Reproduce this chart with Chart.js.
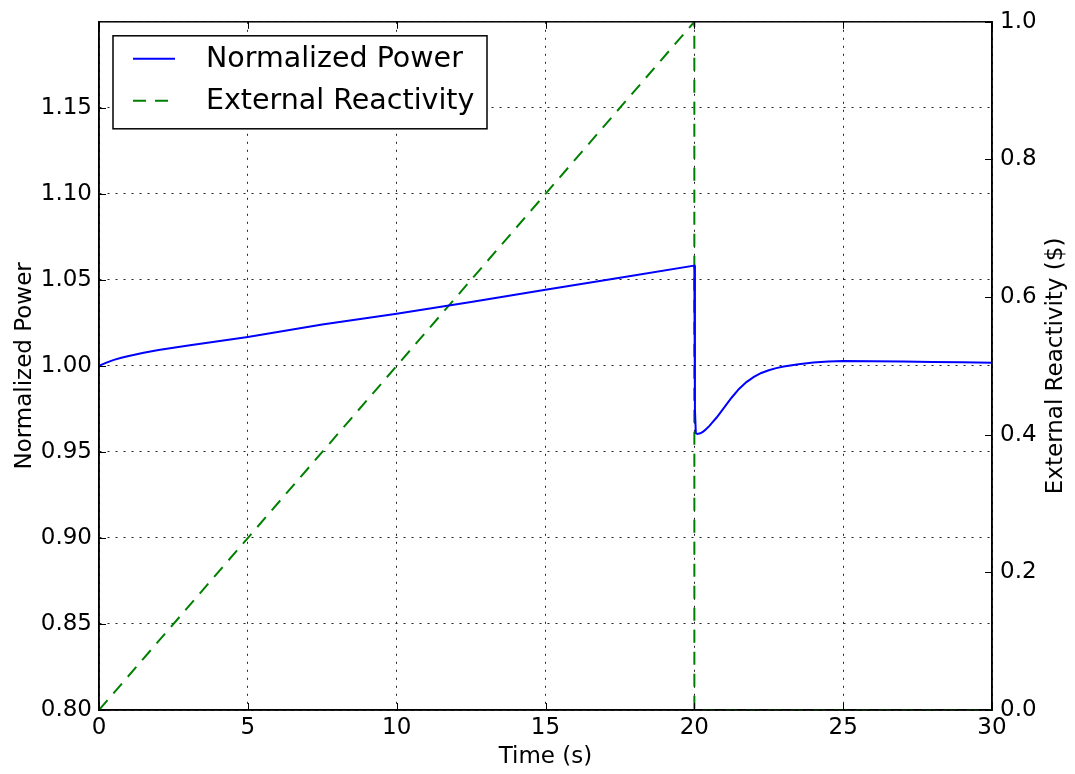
<!DOCTYPE html>
<html>
<head>
<meta charset="utf-8">
<script src="https://cdn.jsdelivr.net/npm/chart.js@4/dist/chart.umd.min.js"></script>
<style>
  html, body { margin: 0; padding: 0; background: #fff; }
  #wrap { width: 1075px; height: 774px; }
</style>
</head>
<body>
<div id="wrap"><canvas id="powerChart" width="1075" height="774"></canvas></div>
<script>
// values
const powerTime = [0, 0.25, 0.5, 0.75, 1, 1.5, 2, 2.5, 3, 4, 5, 7.5, 10, 12.5, 15, 17.5, 20,
    20.02, 20.05, 20.1, 20.2, 20.3, 20.4, 20.5, 20.6, 20.75, 21, 21.25, 21.5, 21.75, 22,
    22.25, 22.5, 22.75, 23, 23.5, 24, 24.5, 25, 26, 27, 28, 29, 30];
const powerValues = [1.000, 1.0019, 1.0035, 1.0047, 1.0058, 1.0077, 1.0093, 1.0106, 1.0118, 1.0143,
    1.0168, 1.0240, 1.0303, 1.0372, 1.0443, 1.0513, 1.0583,
    0.975, 0.9610, 0.9604, 0.9608, 0.9618, 0.9633, 0.9650, 0.9670, 0.9700, 0.9757, 0.9815, 0.9866,
    0.9906, 0.9936, 0.9959, 0.9975, 0.9987, 0.9996, 1.0010, 1.0020, 1.0025, 1.0028, 1.0027,
    1.0025, 1.0023, 1.0021, 1.0019];
const reactTime = [0, 20, 20.001, 30];
const reactValues = [0, 1, 0, 0];
const timeTicks = [0, 5, 10, 15, 20, 25, 30];
const powerTicks = [0.80, 0.85, 0.90, 0.95, 1.00, 1.05, 1.10, 1.15];
const reactTicks = [0.0, 0.2, 0.4, 0.6, 0.8, 1.0];

const FONT = 'DejaVu Sans';
const toXY = (xs, ys) => xs.map((x, i) => ({ x: x, y: ys[i] }));

// frame, inward tick marks, right axis title and the boxed legend
const decorations = {
    id: 'decorations',
    afterDraw(chart) {
        const ctx = chart.ctx;
        const a = chart.chartArea;
        const sx = chart.scales.x, sy = chart.scales.y, sy2 = chart.scales.y2;
        ctx.save();
        ctx.strokeStyle = '#000';
        ctx.lineWidth = 1;
        ctx.beginPath();
        timeTicks.forEach(v => {
            const px = Math.round(sx.getPixelForValue(v)) + 0.5;
            ctx.moveTo(px, a.bottom); ctx.lineTo(px, a.bottom - 7);
            ctx.moveTo(px, a.top); ctx.lineTo(px, a.top + 7);
        });
        powerTicks.forEach(v => {
            const py = Math.round(sy.getPixelForValue(v)) + 0.5;
            ctx.moveTo(a.left, py); ctx.lineTo(a.left + 7, py);
        });
        reactTicks.forEach(v => {
            const py = Math.round(sy2.getPixelForValue(v)) + 0.5;
            ctx.moveTo(a.right, py); ctx.lineTo(a.right - 7, py);
        });
        ctx.stroke();

        ctx.lineWidth = 1.5;
        ctx.strokeRect(a.left, a.top, a.right - a.left, a.bottom - a.top);

        // right axis title reads bottom to top, like matplotlib's twinx label
        ctx.save();
        ctx.translate(1056, (a.top + a.bottom) / 2);
        ctx.rotate(-Math.PI / 2);
        ctx.fillStyle = '#000';
        ctx.font = '23px "' + FONT + '"';
        ctx.textAlign = 'center';
        ctx.textBaseline = 'middle';
        ctx.fillText('External Reactivity ($)', 0, 0);
        ctx.restore();

        // legend
        const lx = a.left + 14, ly = a.top + 14, lw = 374, lh = 93;
        ctx.fillStyle = '#fff';
        ctx.fillRect(lx, ly, lw, lh);
        ctx.lineWidth = 1.5;
        ctx.strokeRect(lx, ly, lw, lh);
        chart.data.datasets.forEach((ds, i) => {
            const y = ly + 23 + i * 42;
            ctx.beginPath();
            ctx.strokeStyle = ds.borderColor;
            ctx.lineWidth = 2;
            ctx.setLineDash(ds.borderDash || []);
            ctx.moveTo(lx + 20, y);
            ctx.lineTo(lx + 62, y);
            ctx.stroke();
            ctx.setLineDash([]);
            ctx.fillStyle = '#000';
            ctx.font = '28.5px "' + FONT + '"';
            ctx.textBaseline = 'middle';
            ctx.textAlign = 'left';
            ctx.fillText(ds.label, lx + 93, y + 1);
        });
        ctx.restore();
    }
};

const ctx = document.getElementById('powerChart').getContext('2d');
const powerChart = new Chart(ctx, {
    type: 'line',
    data: {
        datasets: [{
            label: 'Normalized Power',
            data: toXY(powerTime, powerValues),
            yAxisID: 'y',
            borderColor: '#0000ff',
            borderWidth: 2,
            pointRadius: 0,
            tension: 0,
            fill: false
        }, {
            label: 'External Reactivity',
            data: toXY(reactTime, reactValues),
            yAxisID: 'y2',
            borderColor: '#008000',
            borderWidth: 2,
            borderDash: [13, 9],
            pointRadius: 0,
            tension: 0,
            fill: false
        }]
    },
    options: {
        responsive: false,
        animation: false,
        layout: { padding: { top: 19, left: 0, right: 0, bottom: 0 } },
        plugins: {
            legend: { display: false },
            tooltip: { enabled: false }
        },
        scales: {
            x: {
                type: 'linear',
                min: 0,
                max: 30,
                afterFit: s => { s.height = 64; },
                afterBuildTicks: s => { s.ticks = timeTicks.map(v => ({ value: v })); },
                ticks: {
                    autoSkip: false,
                    maxRotation: 0,
                    padding: 4,
                    color: '#000',
                    font: { family: FONT, size: 23 },
                    callback: v => String(v)
                },
                grid: { color: '#222', lineWidth: 1, drawTicks: false },
                border: { color: '#000', width: 1.5, dash: [2, 6] },
                title: {
                    display: true,
                    text: 'Time (s)',
                    color: '#000',
                    font: { family: FONT, size: 23 },
                    padding: { top: 0, bottom: 3 }
                }
            },
            y: {
                type: 'linear',
                position: 'left',
                min: 0.8,
                max: 1.2,
                afterFit: s => { s.width = 99; },
                afterBuildTicks: s => { s.ticks = powerTicks.concat([1.20]).map(v => ({ value: v })); },
                ticks: {
                    autoSkip: false,
                    padding: 7,
                    color: '#000',
                    font: { family: FONT, size: 23 },
                    callback: v => (v > 1.19 ? '' : v.toFixed(2))
                },
                grid: { color: '#222', lineWidth: 1, drawTicks: false },
                border: { color: '#000', width: 1.5, dash: [2, 6] },
                title: {
                    display: true,
                    text: 'Normalized Power',
                    color: '#000',
                    font: { family: FONT, size: 23 },
                    padding: { top: 11, bottom: 0 }
                }
            },
            y2: {
                type: 'linear',
                position: 'right',
                min: 0,
                max: 1,
                afterFit: s => { s.width = 83; },
                afterBuildTicks: s => { s.ticks = reactTicks.map(v => ({ value: v })); },
                ticks: {
                    autoSkip: false,
                    padding: 8,
                    color: '#000',
                    font: { family: FONT, size: 23 },
                    callback: v => v.toFixed(1)
                },
                grid: { display: false, drawTicks: false },
                border: { color: '#000', width: 1.5 },
                title: { display: false }
            }
        }
    },
    plugins: [decorations]
});
</script>
</body>
</html>
